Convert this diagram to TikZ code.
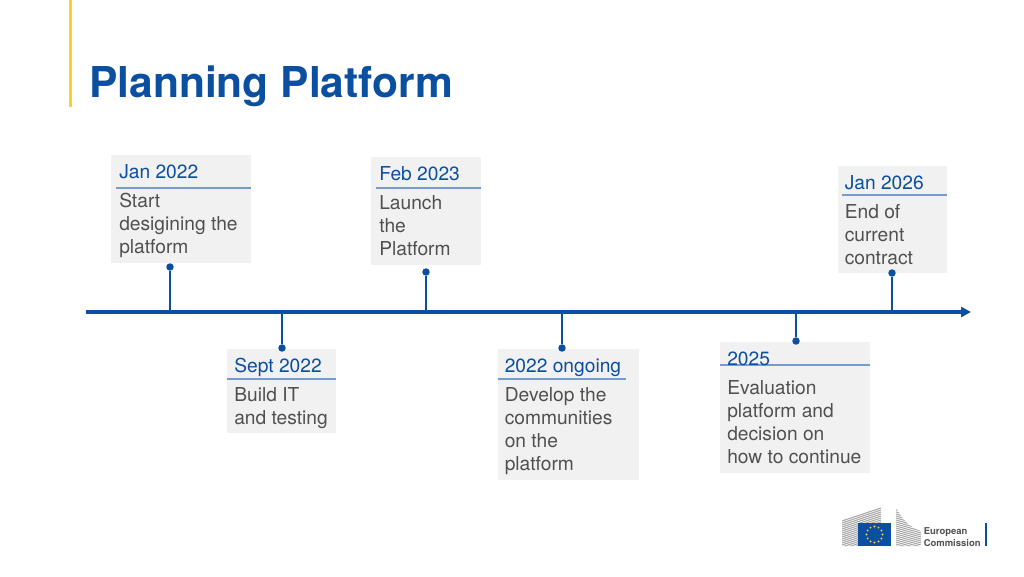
\documentclass[tikz,border=0pt]{standalone}
\usepackage{fontspec}
\setmainfont{TeX Gyre Heros}
\usetikzlibrary{arrows.meta}
\definecolor{ecblue}{RGB}{11,79,160}
\definecolor{ectext}{RGB}{80,80,80}
\definecolor{ecbox}{RGB}{241,241,241}
\definecolor{ecrule}{RGB}{120,155,205}
\definecolor{ecyellow}{RGB}{250,208,40}
\definecolor{ecgrey}{RGB}{165,165,165}
\tikzset{
  x=0.75pt,y=-0.75pt,
  cardbox/.style={fill=ecbox,draw=none,inner sep=0pt,anchor=north west},
  datelabel/.style={anchor=base west,inner sep=0pt,text=ecblue,font=\fontsize{14.4}{17}\selectfont},
  bodylabel/.style={anchor=base west,inner sep=0pt,text=ectext,font=\fontsize{14.4}{17}\selectfont},
  cardrule/.style={draw=ecrule,line width=0.9pt},
  dotmark/.style={circle,fill=ecblue,inner sep=0pt,minimum size=5.6pt},
  stem/.style={draw=ecblue,line width=0.85pt},
  axisline/.style={draw=ecblue,line width=2.6pt,-{Triangle[length=7.5pt,width=7.5pt]}},
  logotext/.style={anchor=base west,inner sep=0pt,text=ectext,font=\fontsize{7.1}{9}\selectfont\bfseries},
}
\newcommand{\card}[5]{\node[cardbox,minimum width=#4*0.75pt,minimum height=#5*0.75pt] (#1) at (#2,#3) {};}
\begin{document}
\begin{tikzpicture}
\useasboundingbox (0,0) rectangle (1024,576);
\fill[white] (0,0) rectangle (1024,576);
\draw[ecyellow,line width=1.9pt] (70.5,0) -- (70.5,107);
\node[anchor=base west,inner sep=0pt,text=ecblue,font=\fontsize{31.9}{38}\selectfont\bfseries] (title) at (89,97) {Planning Platform};

% axis
\coordinate (axisL) at (86,312);
\coordinate (axisR) at (971,312);
\draw[axisline] (axisL) -- (axisR);

% cards
\card{c1}{111}{155}{140}{108}
\card{c2}{371}{157}{110}{108}
\card{c3}{838}{166}{109}{107}
\card{c4}{227}{349}{109}{84}
\card{c5}{498}{349}{141}{131}
\card{c6}{720}{342}{150}{131}

\draw[cardrule] (116,188) -- (251,188);
\draw[cardrule] (376,188) -- (481,188);
\draw[cardrule] (842,195) -- (947,195);
\draw[cardrule] (227,379) -- (336,379);
\draw[cardrule] (498,379) -- (626,379);
\draw[cardrule] (720,365) -- (870,365);

% markers
\node[dotmark] (d1) at (170,267) {};
\node[dotmark] (d2) at (426,272) {};
\node[dotmark] (d3) at (892,273) {};
\node[dotmark] (d4) at (282,348) {};
\node[dotmark] (d5) at (562,348) {};
\node[dotmark] (d6) at (796,341) {};
\foreach \n/\x in {d1/170,d2/426,d3/892,d4/282,d5/562,d6/796}{
  \coordinate (a\n) at (\x,312);
  \draw[stem] (\n) -- (a\n);
}

% texts
\node[datelabel] (t1) at (119,178) {Jan 2022};
\node[bodylabel] (t1a) at (119,207) {Start};
\node[bodylabel] (t1b) at (119,230.5) {desigining the};
\node[bodylabel] (t1c) at (119,253.5) {platform};

\node[datelabel] (t2) at (379,180) {Feb 2023};
\node[bodylabel] (t2a) at (379,209) {Launch};
\node[bodylabel] (t2b) at (379,232) {the};
\node[bodylabel] (t2c) at (379,255) {Platform};

\node[datelabel] (t3) at (844.5,189) {Jan 2026};
\node[bodylabel] (t3a) at (844.5,218) {End of};
\node[bodylabel] (t3b) at (844.5,241) {current};
\node[bodylabel] (t3c) at (844.5,264) {contract};

\node[datelabel] (t4) at (234,372) {Sept 2022};
\node[bodylabel] (t4a) at (234,401) {Build IT};
\node[bodylabel] (t4b) at (234,424) {and testing};

\node[datelabel] (t5) at (504.5,372) {2022 ongoing};
\node[bodylabel] (t5a) at (504.5,401) {Develop the};
\node[bodylabel] (t5b) at (504.5,424) {communities};
\node[bodylabel] (t5c) at (504.5,447) {on the};
\node[bodylabel] (t5d) at (504.5,470) {platform};

\node[datelabel] (t6) at (727,365) {2025};
\node[bodylabel] (t6a) at (727,394) {Evaluation};
\node[bodylabel] (t6b) at (727,417) {platform and};
\node[bodylabel] (t6c) at (727,440) {decision on};
\node[bodylabel] (t6d) at (727,463) {how to continue};

% logo
\begin{scope}
  \clip (842,546) -- (842,520) -- (881,507) -- (881,523) -- (858,523) -- (858,546) -- cycle;
  \foreach \y in {508,510,...,546}{
    \draw[ecgrey,line width=0.75pt] (842,\y+13) -- (881,\y);
  }
\end{scope}
\begin{scope}
  \clip (896,508) .. controls (904,522) and (911,528) .. (921,531) -- (921,546) -- (896,546) -- cycle;
  \foreach \y in {508,510,...,546}{
    \draw[ecgrey,line width=0.75pt] (896,\y) -- (921,\y+7);
  }
\end{scope}
\fill[ecblue] (858,523) rectangle (891,546);
\foreach \a in {0,30,...,330}{
  \fill[ecyellow] ({874.5+8*cos(\a)},{534.5+8*sin(\a)}) circle (0.8pt);
}
\node[logotext] (l1) at (923.5,534.5) {European};
\node[logotext] (l2) at (923.5,546) {Commission};
\draw[ecblue,line width=1.4pt] (986,523) -- (986,546);
\end{tikzpicture}
\end{document}
